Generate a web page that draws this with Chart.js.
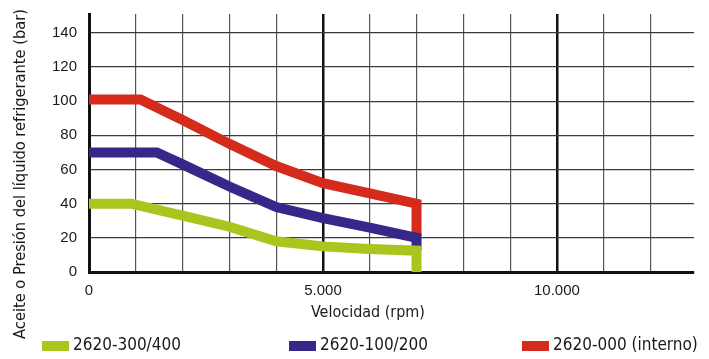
<!DOCTYPE html>
<html lang="es">
<head>
  <meta charset="UTF-8" />
  <title>Presión vs velocidad</title>
  <script src="https://cdn.jsdelivr.net/npm/chart.js"></script>
  <style>
    body {
      margin: 0;
      padding: 0;
      background-color: #fff;
    }
    .wrap {
      width: 709px;
      height: 359px;
    }
  </style>
</head>
<body>
  <div class="wrap">
    <canvas id="chart" width="709" height="359"></canvas>
  </div>

  <script>
    // values (rpm, bar)
    const seriesNames = ['2620-300/400', '2620-100/200', '2620-000 (interno)'];
    const seriesColors = ['#aac51e', '#36288a', '#d42b1c'];

    const greenRpm = [0, 900, 2000, 3000, 4000, 5000, 6000, 7000, 7000];
    const greenBar = [40, 40, 33, 26.5, 18, 15, 13.5, 12.5, 0];

    const blueRpm = [0, 1450, 2000, 3000, 4000, 5000, 6000, 7000, 7000];
    const blueBar = [70, 70, 63, 50, 38, 31.5, 26, 20, 13];

    const redRpm = [0, 1100, 2000, 3000, 4000, 5000, 6000, 7000, 7000];
    const redBar = [101, 101, 89, 75, 62, 52, 46, 40, 21];

    const xTicks = [0, 1000, 2000, 3000, 4000, 5000, 6000, 7000, 8000, 9000, 10000, 11000, 12000];
    const xLabelled = [0, 5000, 10000];
    const yTicks = [0, 20, 40, 60, 80, 100, 120, 140];
    const xMax = 12930;
    const yMax = 151;

    // where each legend entry starts, as in the original
    const legendX = [42, 289, 522];

    const narrow = "'Liberation Sans Narrow', 'DejaVu Sans Condensed', 'Liberation Sans', sans-serif";
    const plain = "'Liberation Sans', Arial, sans-serif";

    function points(xs, ys) {
      return xs.map((x, i) => ({ x: x, y: ys[i] }));
    }

    function makeSet(idx, xs, ys, order) {
      return {
        label: seriesNames[idx],
        data: points(xs, ys),
        borderColor: seriesColors[idx],
        backgroundColor: seriesColors[idx],
        borderWidth: 10,
        borderCapStyle: 'butt',
        borderJoinStyle: 'miter',
        pointRadius: 0,
        tension: 0,
        fill: false,
        order: order
      };
    }

    function fitFont(ctx, text, width) {
      ctx.font = '20px ' + narrow;
      const size = 20 * width / ctx.measureText(text).width;
      ctx.font = size.toFixed(2) + 'px ' + narrow;
    }

    // axis titles and legend drawn by hand so they sit where the original has them
    const extras = {
      id: 'extras',
      afterDraw(chart) {
        const ctx = chart.ctx;
        const yTitle = 'Aceite o Presión del líquido refrigerante (bar)';

        ctx.save();
        ctx.fillStyle = '#1a1a1a';
        fitFont(ctx, yTitle, 330);
        ctx.textAlign = 'center';
        ctx.textBaseline = 'middle';
        ctx.translate(21, 174);
        ctx.rotate(-Math.PI / 2);
        ctx.fillText(yTitle, 0, 0);
        ctx.restore();

        ctx.save();
        ctx.fillStyle = '#1a1a1a';
        fitFont(ctx, 'Velocidad (rpm)', 114);
        ctx.textAlign = 'center';
        ctx.textBaseline = 'alphabetic';
        ctx.fillText('Velocidad (rpm)', 368, 317);

        ctx.textAlign = 'left';
        ctx.textBaseline = 'middle';
        fitFont(ctx, seriesNames[0], 108);
        chart.data.datasets.forEach((ds, i) => {
          const x0 = legendX[i];
          ctx.fillStyle = ds.borderColor;
          ctx.fillRect(x0, 341, 27, 10);
          ctx.fillStyle = '#1a1a1a';
          ctx.fillText(ds.label, x0 + 31, 346);
        });
        ctx.restore();
      }
    };

    new Chart(document.getElementById('chart').getContext('2d'), {
      type: 'line',
      data: {
        datasets: [
          makeSet(0, greenRpm, greenBar, 1),
          makeSet(1, blueRpm, blueBar, 2),
          makeSet(2, redRpm, redBar, 3)
        ]
      },
      options: {
        responsive: false,
        animation: false,
        layout: { padding: { top: 14, right: 15, bottom: 0, left: 0 } },
        plugins: {
          tooltip: { enabled: false },
          legend: { display: false }
        },
        scales: {
          x: {
            type: 'linear',
            min: 0,
            max: xMax,
            afterFit: (scale) => { scale.height = 87; },
            afterBuildTicks: (scale) => { scale.ticks = xTicks.map(v => ({ value: v })); },
            ticks: {
              autoSkip: false,
              maxRotation: 0,
              padding: 10,
              color: '#1a1a1a',
              font: { family: plain, size: 15 },
              callback: (v) => xLabelled.includes(v) ? (v === 0 ? '0' : (v / 1000) + '.000') : ''
            },
            grid: {
              drawTicks: false,
              color: (c) => (c.tick && (c.tick.value === 5000 || c.tick.value === 10000)) ? '#111' : '#555',
              lineWidth: (c) => (c.tick && (c.tick.value === 5000 || c.tick.value === 10000)) ? 2.5 : 1.2
            },
            border: { display: true, color: '#111', width: 3 }
          },
          y: {
            min: 0,
            max: yMax,
            afterFit: (scale) => { scale.width = 89; },
            afterBuildTicks: (scale) => { scale.ticks = yTicks.map(v => ({ value: v })); },
            ticks: {
              padding: 0,
              color: '#1a1a1a',
              font: { family: plain, size: 15 }
            },
            grid: {
              drawTicks: true,
              tickLength: 12,
              tickColor: 'rgba(0,0,0,0)',
              color: '#3a3a3a',
              lineWidth: 1.2
            },
            border: { display: true, color: '#111', width: 3 }
          }
        }
      },
      plugins: [extras]
    });
  </script>
</body>
</html>
